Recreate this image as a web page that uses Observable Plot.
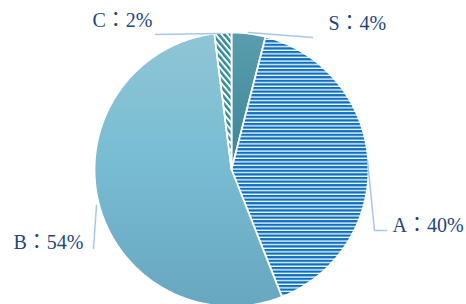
<!DOCTYPE html>
<html>
<head>
<meta charset="utf-8">
<script src="https://cdn.jsdelivr.net/npm/d3@7"></script>
<script src="https://cdn.jsdelivr.net/npm/@observablehq/plot@0.6"></script>
<style>
  html, body { margin: 0; padding: 0; background: #fff; }
  #chart { width: 466px; height: 304px; overflow: hidden; }
</style>
</head>
<body>
<div id="chart"></div>
<script>
// ---- data ----
const categories = ["S", "A", "B", "C"];
const shares = [4, 40, 54, 2];
const labels = ["S：4%", "A：40%", "B：54%", "C：2%"];

// ---- layout (plot units = pixels, origin at pie centre, y up) ----
const W = 466, H = 304;
const CX = 231, CY = 169, R = 137;
const fills = ["url(#gradS)", "url(#stripeA)", "url(#gradB)", "url(#hatchC)"];
// label anchor (left, baseline) in plot units
const labelPos = [[97, 140], [161, -62], [-218, -79], [-139, 143]];
const leaders = [
  [[17, 137], [81, 132]],
  [[136, 9], [143, -61], [155, -61]],
  [[-135, -36], [-138, -79]],
  [[-76, 135], [-11, 136]]
];

// ---- geometry from data via d3.pie ----
const arcs = d3.pie().sort(null).value(d => d)(shares);
const slicePts = [];
arcs.forEach((a, i) => {
  slicePts.push({ k: i, x: 0, y: 0 });
  const n = Math.max(4, Math.ceil((a.endAngle - a.startAngle) / 0.01));
  for (let j = 0; j <= n; j++) {
    const t = a.startAngle + (a.endAngle - a.startAngle) * j / n;
    slicePts.push({ k: i, x: R * Math.sin(t), y: R * Math.cos(t) });
  }
  slicePts.push({ k: i, x: 0, y: 0 });
});

const leaderPts = [];
leaders.forEach((l, i) => l.forEach(p => leaderPts.push({ k: i, x: p[0], y: p[1] })));

const labelData = labels.map((t, i) => ({ t, x: labelPos[i][0], y: labelPos[i][1] }));

const chart = Plot.plot({
  width: W, height: H,
  margin: 0,
  x: { domain: [-CX, W - CX], range: [0, W], axis: null },
  y: { domain: [CY - H, CY], range: [H, 0], axis: null },
  style: { background: "#fff", overflow: "hidden" },
  marks: [
    () => {
      const ns = "http://www.w3.org/2000/svg";
      const defs = document.createElementNS(ns, "defs");
      defs.innerHTML = `
        <linearGradient id="gradS" x1="0" y1="0" x2="0" y2="1">
          <stop offset="0" stop-color="#5a9ead"/>
          <stop offset="1" stop-color="#3b8497"/>
        </linearGradient>
        <linearGradient id="gradB" x1="0" y1="0" x2="0" y2="1">
          <stop offset="0" stop-color="#8fc5d6"/>
          <stop offset="0.45" stop-color="#79bdd3"/>
          <stop offset="1" stop-color="#67a7bf"/>
        </linearGradient>
        <pattern id="stripeA" patternUnits="userSpaceOnUse" width="6" height="3.6">
          <rect width="6" height="3.6" fill="#ffffff"/>
          <rect width="6" height="2.3" fill="#0a6fc0"/>
        </pattern>
        <pattern id="hatchC" patternUnits="userSpaceOnUse" width="4.5" height="4.5" patternTransform="rotate(-40)">
          <rect width="4.5" height="4.5" fill="#ffffff"/>
          <rect width="2.5" height="4.5" fill="#2f8a9c"/>
        </pattern>`;
      return defs;
    },
    ...categories.map((c, i) =>
      Plot.line(slicePts.filter(d => d.k === i), {
        x: "x", y: "y", fill: fills[i], stroke: "#ffffff", strokeWidth: 1.8, strokeLinejoin: "round"
      })
    ),
    Plot.line(leaderPts, { x: "x", y: "y", z: "k", stroke: "#a9c6ea", strokeWidth: 1.5 }),
    Plot.text(labelData, {
      x: "x", y: "y", text: "t", textAnchor: "start", lineAnchor: "bottom",
      fill: "#24467c", fontSize: 20,
      fontFamily: "'Liberation Serif', 'Noto Sans CJK JP', serif"
    })
  ]
});
document.getElementById("chart").appendChild(chart);
</script>
</body>
</html>
